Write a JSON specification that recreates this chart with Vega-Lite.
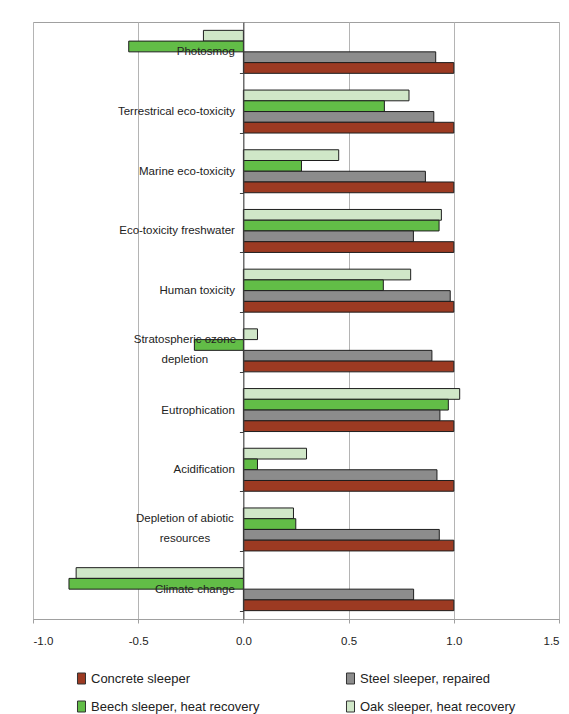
{
  "$schema": "https://vega.github.io/schema/vega-lite/v6.json",
  "width": 526,
  "height": 597,
  "autosize": {"type": "none"},
  "padding": {"left": 33, "top": 22, "right": 10, "bottom": 95},
  "background": "white",
  "data": {
    "values": [
      {"category": "Photosmog", "sleeper": "Oak sleeper, heat recovery", "value": -0.19},
      {"category": "Photosmog", "sleeper": "Beech sleeper, heat recovery", "value": -0.545},
      {"category": "Photosmog", "sleeper": "Steel sleeper, repaired", "value": 0.914},
      {"category": "Photosmog", "sleeper": "Concrete sleeper", "value": 1.0},
      {"category": "Terrestrical eco-toxicity", "sleeper": "Oak sleeper, heat recovery", "value": 0.787},
      {"category": "Terrestrical eco-toxicity", "sleeper": "Beech sleeper, heat recovery", "value": 0.67},
      {"category": "Terrestrical eco-toxicity", "sleeper": "Steel sleeper, repaired", "value": 0.905},
      {"category": "Terrestrical eco-toxicity", "sleeper": "Concrete sleeper", "value": 1.0},
      {"category": "Marine eco-toxicity", "sleeper": "Oak sleeper, heat recovery", "value": 0.453},
      {"category": "Marine eco-toxicity", "sleeper": "Beech sleeper, heat recovery", "value": 0.276},
      {"category": "Marine eco-toxicity", "sleeper": "Steel sleeper, repaired", "value": 0.865},
      {"category": "Marine eco-toxicity", "sleeper": "Concrete sleeper", "value": 1.0},
      {"category": "Eco-toxicity freshwater", "sleeper": "Oak sleeper, heat recovery", "value": 0.941},
      {"category": "Eco-toxicity freshwater", "sleeper": "Beech sleeper, heat recovery", "value": 0.93},
      {"category": "Eco-toxicity freshwater", "sleeper": "Steel sleeper, repaired", "value": 0.808},
      {"category": "Eco-toxicity freshwater", "sleeper": "Concrete sleeper", "value": 1.0},
      {"category": "Human toxicity", "sleeper": "Oak sleeper, heat recovery", "value": 0.795},
      {"category": "Human toxicity", "sleeper": "Beech sleeper, heat recovery", "value": 0.665},
      {"category": "Human toxicity", "sleeper": "Steel sleeper, repaired", "value": 0.983},
      {"category": "Human toxicity", "sleeper": "Concrete sleeper", "value": 1.0},
      {"category": "Stratospheric ozone depletion", "sleeper": "Oak sleeper, heat recovery", "value": 0.067},
      {"category": "Stratospheric ozone depletion", "sleeper": "Beech sleeper, heat recovery", "value": -0.233},
      {"category": "Stratospheric ozone depletion", "sleeper": "Steel sleeper, repaired", "value": 0.896},
      {"category": "Stratospheric ozone depletion", "sleeper": "Concrete sleeper", "value": 1.0},
      {"category": "Eutrophication", "sleeper": "Oak sleeper, heat recovery", "value": 1.028},
      {"category": "Eutrophication", "sleeper": "Beech sleeper, heat recovery", "value": 0.974},
      {"category": "Eutrophication", "sleeper": "Steel sleeper, repaired", "value": 0.934},
      {"category": "Eutrophication", "sleeper": "Concrete sleeper", "value": 1.0},
      {"category": "Acidification", "sleeper": "Oak sleeper, heat recovery", "value": 0.3},
      {"category": "Acidification", "sleeper": "Beech sleeper, heat recovery", "value": 0.067},
      {"category": "Acidification", "sleeper": "Steel sleeper, repaired", "value": 0.92},
      {"category": "Acidification", "sleeper": "Concrete sleeper", "value": 1.0},
      {"category": "Depletion of abiotic resources", "sleeper": "Oak sleeper, heat recovery", "value": 0.238},
      {"category": "Depletion of abiotic resources", "sleeper": "Beech sleeper, heat recovery", "value": 0.249},
      {"category": "Depletion of abiotic resources", "sleeper": "Steel sleeper, repaired", "value": 0.931},
      {"category": "Depletion of abiotic resources", "sleeper": "Concrete sleeper", "value": 1.0},
      {"category": "Climate change", "sleeper": "Oak sleeper, heat recovery", "value": -0.795},
      {"category": "Climate change", "sleeper": "Beech sleeper, heat recovery", "value": -0.829},
      {"category": "Climate change", "sleeper": "Steel sleeper, repaired", "value": 0.809},
      {"category": "Climate change", "sleeper": "Concrete sleeper", "value": 1.0}
    ]
  },
  "mark": {"type": "bar", "stroke": "#1e1e1e", "strokeWidth": 1},
  "encoding": {
    "y": {
      "field": "category",
      "type": "nominal",
      "sort": null,
      "scale": {"paddingInner": 0.28, "paddingOuter": 0.14},
      "axis": {
        "title": null,
        "offset": -210.4,
        "zindex": 1,
        "domainColor": "#404040",
        "tickColor": "#404040",
        "tickSize": 4,
        "tickBand": "extent",
        "labelFontSize": 11.5,
        "labelColor": "#222222",
        "labelLimit": 300,
        "labelLineHeight": 20,
        "labelExpr": "datum.value == 'Stratospheric ozone depletion' ? ['Stratospheric ozone', 'depletion'] : datum.value == 'Depletion of abiotic resources' ? ['Depletion of abiotic', 'resources'] : datum.value",
        "labelAlign": {"condition": {"test": "datum.value == 'Stratospheric ozone depletion' || datum.value == 'Depletion of abiotic resources'", "value": "center"}, "value": "right"},
        "labelPadding": {"condition": {"test": "datum.value == 'Stratospheric ozone depletion' || datum.value == 'Depletion of abiotic resources'", "value": 55}, "value": 5},
        "labelOffset": {"condition": {"test": "datum.value == 'Stratospheric ozone depletion' || datum.value == 'Depletion of abiotic resources'", "value": -11}, "value": 0}
      }
    },
    "yOffset": {
      "field": "sleeper",
      "type": "nominal",
      "scale": {
        "domain": ["Oak sleeper, heat recovery", "Beech sleeper, heat recovery", "Steel sleeper, repaired", "Concrete sleeper"],
        "paddingInner": 0,
        "paddingOuter": 0
      }
    },
    "x": {
      "field": "value",
      "type": "quantitative",
      "scale": {"domain": [-1, 1.5], "nice": false, "zero": false},
      "axis": {
        "title": null,
        "values": [-1, -0.5, 0, 0.5, 1, 1.5],
        "format": ".1f",
        "labelExpr": "replace(datum.label, '\u2212', '-')",
        "grid": true,
        "gridColor": "#b4b4b4",
        "domainColor": "#a0a0a0",
        "tickColor": "#a0a0a0",
        "tickSize": 4,
        "labelPadding": 12,
        "labelFontSize": 11.5,
        "labelColor": "#222222"
      }
    },
    "color": {
      "field": "sleeper",
      "type": "nominal",
      "scale": {
        "domain": ["Concrete sleeper", "Steel sleeper, repaired", "Beech sleeper, heat recovery", "Oak sleeper, heat recovery"],
        "range": ["#9c3a22", "#8c8c8c", "#62bd47", "#d0e7c8"]
      },
      "legend": {
        "title": null,
        "orient": "none",
        "legendX": 42,
        "legendY": 650,
        "direction": "horizontal",
        "columns": 2,
        "columnPadding": 84,
        "rowPadding": 13,
        "symbolType": "M-0.73,-1H0.73V1H-0.73Z",
        "symbolSize": 121,
        "symbolStrokeColor": "#333333",
        "symbolStrokeWidth": 1,
        "symbolOpacity": 1,
        "labelOffset": 3,
        "labelFontSize": 13,
        "labelColor": "#222222",
        "labelLimit": 300
      }
    }
  },
  "config": {
    "font": "Liberation Sans, Arial, sans-serif",
    "view": {"stroke": "#a0a0a0"}
  }
}
